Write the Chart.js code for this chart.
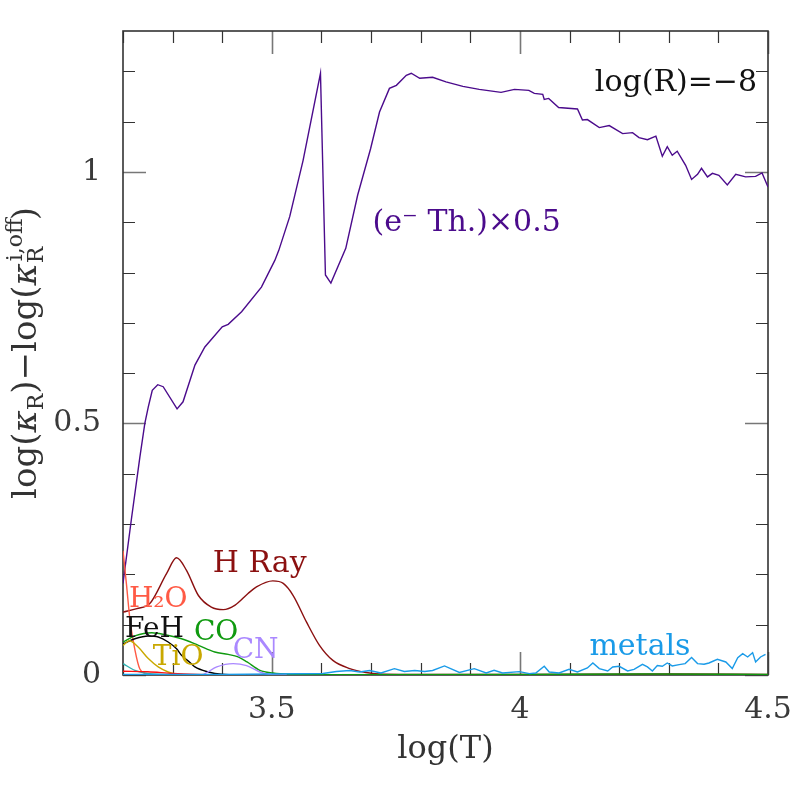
<!DOCTYPE html>
<html><head><meta charset="utf-8">
<script src="https://cdn.jsdelivr.net/npm/chart.js@4.4.0/dist/chart.umd.min.js"></script>
<style>html,body{margin:0;padding:0;background:#fff}#wrap{width:797px;height:797px}</style>
</head><body><div id="wrap"><canvas id="c" width="797" height="797"></canvas></div>
<script>
const FONT = '"DejaVu Serif", serif';

// ---- tick labels ----
const xTickLabels = [3.5, 4, 4.5];
const yTickLabels = [0, 0.5, 1];

// ---- series: electron Thomson (x0.5) ----
const eThT = [3.200,3.2175,3.234,3.244,3.251,3.259,3.270,3.281,3.309,3.321,3.345,3.365,3.400,3.412,3.439,3.479,3.506,3.514,3.536,3.563,3.598,3.608,3.619,3.649,3.673,3.699,3.717,3.737,3.751,3.771,3.781,3.798,3.824,3.851,3.885,3.918,3.962,3.989,4.018,4.029,4.046,4.049,4.058,4.078,4.116,4.126,4.136,4.160,4.180,4.207,4.227,4.240,4.257,4.274,4.287,4.297,4.307,4.317,4.334,4.346,4.358,4.366,4.378,4.388,4.401,4.418,4.435,4.455,4.475,4.488,4.500];
const eThK = [0.182,0.314,0.433,0.500,0.533,0.566,0.577,0.573,0.529,0.543,0.616,0.652,0.692,0.697,0.722,0.771,0.824,0.844,0.911,1.023,1.196,0.795,0.779,0.848,0.954,1.046,1.119,1.166,1.172,1.192,1.196,1.186,1.188,1.179,1.170,1.164,1.158,1.164,1.162,1.156,1.154,1.144,1.146,1.128,1.125,1.103,1.104,1.088,1.092,1.076,1.078,1.068,1.064,1.071,1.031,1.050,1.033,1.041,1.013,0.985,0.995,1.007,0.990,0.997,0.993,0.974,0.995,0.990,0.991,0.998,0.970];

// ---- H Rayleigh ----
const hRayT = [3.200,3.228,3.254,3.288,3.308,3.328,3.352,3.378,3.402,3.426,3.452,3.469,3.502,3.523,3.543,3.570,3.596,3.623,3.657,3.690,3.724,3.800,4.000,4.300,4.500];
const hRayK = [0.125,0.132,0.142,0.202,0.233,0.208,0.158,0.135,0.130,0.139,0.162,0.175,0.187,0.182,0.158,0.105,0.059,0.029,0.0127,0.005,0.0015,0.001,0.001,0.002,0.001];

// ---- H2O ----
const h2oT = [3.200,3.207,3.214,3.224,3.234,3.250,3.300,3.400];
const h2oK = [0.247,0.180,0.110,0.050,0.012,0.002,0.0,0.0];

// ---- FeH ----
const fehT = [3.200,3.224,3.251,3.271,3.291,3.308,3.318,3.335,3.345,3.372,3.399,3.450];
const fehK = [0.062,0.072,0.0776,0.0756,0.0656,0.052,0.039,0.025,0.016,0.006,0.0014,0.0];

// ---- CO ----
const coT = [3.200,3.224,3.258,3.285,3.318,3.352,3.385,3.412,3.432,3.450,3.476,3.502,3.536,3.600,4.000,4.250,4.500];
const coK = [0.0656,0.0776,0.084,0.080,0.072,0.059,0.0457,0.041,0.036,0.026,0.0093,0.004,0.0014,0.0005,0.001,0.002,0.001];

// ---- TiO ----
const tioT = [3.200,3.213,3.231,3.251,3.271,3.291,3.311,3.350];
const tioK = [0.059,0.068,0.055,0.0326,0.016,0.006,0.0014,0.0];

// ---- CN ----
const cnT = [3.350,3.362,3.389,3.422,3.449,3.476,3.496,3.530];
const cnK = [0.0,0.0014,0.016,0.0226,0.0186,0.006,0.001,0.0];

// ---- minor species (teal, red) ----
const tealT = [3.200,3.224,3.250,3.300,3.400];
const tealK = [0.0227,0.009,0.003,0.0005,0.0];
const redT = [3.200,3.250,3.300,3.350,3.400];
const redK = [0.0075,0.0065,0.003,0.001,0.0];

// ---- metals ----
const metT = [3.200,3.400,3.603,3.630,3.657,3.677,3.697,3.720,3.747,3.767,3.788,3.808,3.824,3.848,3.878,3.908,3.932,3.948,3.965,3.999,4.019,4.032,4.049,4.059,4.079,4.099,4.116,4.136,4.147,4.160,4.177,4.187,4.200,4.217,4.230,4.247,4.257,4.267,4.277,4.287,4.297,4.307,4.321,4.333,4.346,4.358,4.371,4.381,4.398,4.415,4.428,4.439,4.449,4.459,4.469,4.475,4.485,4.495];
const metK = [0.001,0.001,0.003,0.007,0.009,0.006,0.009,0.004,0.0127,0.007,0.009,0.007,0.009,0.018,0.005,0.0127,0.004,0.0093,0.004,0.0067,0.0028,0.004,0.0173,0.006,0.004,0.0113,0.006,0.0139,0.0239,0.0127,0.008,0.016,0.0173,0.008,0.0113,0.0213,0.016,0.008,0.0187,0.0173,0.0239,0.018,0.0207,0.0227,0.0346,0.0227,0.0213,0.0239,0.0312,0.0259,0.0127,0.0346,0.0425,0.0358,0.0445,0.0259,0.0358,0.0411];

function pts(xs, ys){ return xs.map((x,i)=>({x:x, y:ys[i]})); }

const COL = {
  eth:'#4b0b8c', hray:'#8b1010', h2o:'#ff5a45', feh:'#000000', co:'#109a10',
  tio:'#c9a800', cn:'#aa88ff', met:'#1a9be8', teal:'#30b0b0', red:'#ff1010'
};

function ds(label, xs, ys, color, smooth){
  return {label, data: pts(xs, ys), borderColor: color, backgroundColor: color,
    borderWidth: 1.4, pointRadius: 0, fill: false,
    tension: smooth ? 0.4 : 0, cubicInterpolationMode: smooth ? 'monotone' : 'default'};
}

const datasets = [
  ds('metals', metT, metK, COL.met, false),
  ds('red', redT, redK, COL.red, true),
  ds('teal', tealT, tealK, COL.teal, true),
  ds('TiO', tioT, tioK, COL.tio, true),
  ds('CN', cnT, cnK, COL.cn, true),
  ds('CO', coT, coK, COL.co, true),
  ds('FeH', fehT, fehK, COL.feh, true),
  ds('H2O', h2oT, h2oK, COL.h2o, true),
  ds('H Ray', hRayT, hRayK, COL.hray, true),
  ds('eTh', eThT, eThK, COL.eth, false)
];

// annotation labels: [text, x(data), y(data, baseline), color, size, align]
const annotations = [
  ['log(R)=\u22128', 4.478, 1.160, '#111', 30, 'right'],
  ['(e\u207B Th.)\u00D70.5', 3.703, 0.882, COL.eth, 30, 'left'],
  ['H Ray', 3.381, 0.204, COL.hray, 30, 'left'],
  ['H\u2082O', 3.212, 0.1346, COL.h2o, 28, 'left'],
  ['FeH', 3.204, 0.075, '#111', 28, 'left'],
  ['CO', 3.343, 0.069, COL.co, 28, 'left'],
  ['TiO', 3.260, 0.0193, COL.tio, 28, 'left'],
  ['CN', 3.421, 0.033, COL.cn, 28, 'left'],
  ['metals', 4.140, 0.039, COL.met, 30, 'left']
];

const framePlugin = {
  id: 'frame',
  beforeDatasetsDraw(chart){
    const {ctx, chartArea:a, scales} = chart;
    const xs = scales.x, ys = scales.y;
    ctx.save();
    ctx.lineCap = 'butt';
    for (let k = 32; k <= 45; k++){
      const px = Math.round(xs.getPixelForValue(k/10)) + 0.5;
      const major = (k % 5 === 0);
      const len = major ? 23 : 12;
      ctx.strokeStyle = major ? '#777' : '#333';
      ctx.lineWidth = major ? 1.6 : 1.2;
      ctx.beginPath();
      ctx.moveTo(px, a.bottom); ctx.lineTo(px, a.bottom - len);
      ctx.moveTo(px, a.top); ctx.lineTo(px, a.top + len);
      ctx.stroke();
    }
    for (let k = 0; k <= 12; k++){
      const py = Math.round(ys.getPixelForValue(k/10)) + 0.5;
      const major = (k % 5 === 0);
      const len = major ? 23 : 12;
      ctx.strokeStyle = major ? '#777' : '#333';
      ctx.lineWidth = major ? 1.6 : 1.2;
      ctx.beginPath();
      ctx.moveTo(a.left, py); ctx.lineTo(a.left + len, py);
      ctx.moveTo(a.right, py); ctx.lineTo(a.right - len, py);
      ctx.stroke();
    }
    ctx.strokeStyle = '#333';
    ctx.lineWidth = 1.6;
    ctx.strokeRect(a.left, a.top, a.right - a.left, a.bottom - a.top);
    ctx.restore();
  },
  afterDatasetsDraw(chart){
    const {ctx, chartArea:a, scales} = chart;
    const xs = scales.x, ys = scales.y;
    ctx.save();
    ctx.textBaseline = 'alphabetic';
    for (const [t, x, y, c, s, al] of annotations){
      ctx.font = s + 'px ' + FONT;
      ctx.fillStyle = c;
      ctx.textAlign = al;
      ctx.fillText(t, xs.getPixelForValue(x), ys.getPixelForValue(y));
    }
    // x axis title
    ctx.fillStyle = '#333';
    ctx.textAlign = 'center';
    ctx.textBaseline = 'middle';
    ctx.font = '32px ' + FONT;
    ctx.fillText('log(T)', (a.left + a.right)/2, 750);
    // y axis title (rotated, with sub/superscripts)
    ctx.textAlign = 'left';
    ctx.textBaseline = 'alphabetic';
    const S = 34, s = 22;
    const big = S + 'px ' + FONT, small = s + 'px ' + FONT, kap = 'italic ' + S + 'px ' + FONT;
    const parts = [
      {t:'log(', f:big}, {t:'\u03BA', f:kap}, {t:'R', f:small, dy:7}, {t:')\u2212log(', f:big},
      {t:'\u03BA', f:kap}, {t:'i,off', f:small, dy:-14, noAdvance:true}, {t:'R', f:small, dy:7, w:'i,off'},
      {t:')', f:big}
    ];
    let w = 0;
    for (const p of parts){
      if (p.noAdvance) continue;
      ctx.font = p.f;
      w += ctx.measureText(p.w || p.t).width;
    }
    ctx.translate(36, (a.top + a.bottom)/2);
    ctx.rotate(-Math.PI/2);
    ctx.fillStyle = '#333';
    let cx = -w/2;
    for (const p of parts){
      ctx.font = p.f;
      ctx.fillText(p.t, cx + (p.t === 'i,off' ? 2 : 0), p.dy || 0);
      if (p.noAdvance) continue;
      cx += ctx.measureText(p.w || p.t).width;
    }
    ctx.restore();
  }
};

new Chart(document.getElementById('c'), {
  type: 'line',
  data: { datasets },
  options: {
    responsive: false,
    animation: false,
    layout: { padding: { left: 0, right: 29, top: 31, bottom: 0 } },
    plugins: { legend: { display: false }, tooltip: { enabled: false } },
    scales: {
      x: {
        type: 'linear', min: 3.2, max: 4.5,
        grid: { display: false, drawTicks: false, tickLength: 0 },
        border: { display: false },
        afterBuildTicks: (sc) => { sc.ticks = xTickLabels.map(v => ({value: v})); },
        ticks: { font: { family: FONT, size: 30 }, color: '#3a3a3a', padding: 17, maxRotation: 0,
                 callback: (v) => String(v) },
        afterFit: (sc) => { sc.height = 122; sc.paddingLeft = 0; sc.paddingRight = 0; }
      },
      y: {
        type: 'linear', min: 0, max: 1.28,
        grid: { display: false, drawTicks: false, tickLength: 0 },
        border: { display: false },
        afterBuildTicks: (sc) => { sc.ticks = yTickLabels.map(v => ({value: v})); },
        ticks: { font: { family: FONT, size: 30 }, color: '#3a3a3a', padding: 22,
                 callback: (v) => String(v) },
        afterFit: (sc) => { sc.width = 123; sc.paddingTop = 0; sc.paddingBottom = 0; }
      }
    }
  },
  plugins: [framePlugin]
});
</script>
</body></html>
